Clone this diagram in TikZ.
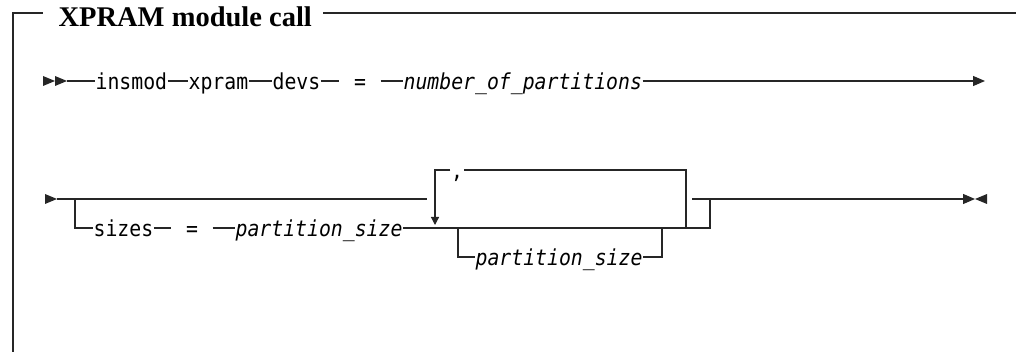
\documentclass[tikz,border=0pt]{standalone}
\usepackage{fontspec}
\setmainfont{Liberation Serif}
\setmonofont{DejaVu Sans Mono}[FakeStretch=0.9]
\usetikzlibrary{arrows.meta}

\begin{document}
\begin{tikzpicture}[x=1pt,y=-1pt,line width=1.2pt,color=black!85,
  kw/.style={inner sep=0pt,text height=18pt,text depth=0pt,anchor=west,text=black,font=\fontsize{22}{22}\selectfont\ttfamily},
  var/.style={kw,font=\fontsize{22}{22}\selectfont\ttfamily\itshape},
  eq/.style={kw,anchor=center,inner xsep=14pt},
  tip/.style={-{Triangle[length=12pt,width=10pt]}}]
\useasboundingbox (0,0) rectangle (1016,352);
% frame and title
\path (58,27) node(title) [anchor=base west,inner sep=0pt,text=black,font=\fontsize{28.5}{28.5}\selectfont\bfseries] {XPRAM module call};
\draw[line width=1.3pt] (13,352) -- (13,13) -- (43,13);
\draw[line width=1.3pt] (323,13) -- (1016,13);
% first row
\fill (43,76) -- (55,81) -- (43,86) -- cycle;
\fill (55,76) -- (67,81) -- (55,86) -- cycle;
\coordinate (start_1) at (67,81);
\path (95,81) node(insmod_1) [kw] {insmod};
\path (188,81) node(xpram_1) [kw] {xpram};
\path (272,81) node(devs_1) [kw] {devs};
\path (360,81) node(eq_1) [eq] {=};
\path (403,81) node(number_1) [var] {number\_of\_partitions};
\coordinate (end_1) at (985,81);
\draw (start_1) -- (insmod_1);
\draw (insmod_1) -- (xpram_1);
\draw (xpram_1) -- (devs_1);
\draw (devs_1) -- (eq_1);
\draw (eq_1) -- (number_1);
\draw[tip] (number_1) -- (end_1);
% second row
\fill (45,194) -- (57,199) -- (45,204) -- cycle;
\coordinate (start_2) at (57,199);
\coordinate (skip_2) at (427,199);
\coordinate (down_2) at (75,199);
\coordinate (corner_2) at (75,228);
\path (93,228) node(sizes_2) [kw] {sizes};
\path (192,228) node(eq_2) [eq] {=};
\path (235,228) node(size_2) [var] {partition\_size};
\coordinate (join_2) at (710,228);
\coordinate (up_2) at (710,199);
\coordinate (back_2) at (692,199);
\coordinate (end_2) at (975,199);
% repeat loop
\coordinate (loopb_2) at (686,228);
\coordinate (loopc_2) at (686,170);
\path (457,170) node(comma_2) [kw,anchor=center] {,};
\coordinate (loopa_2) at (435,170);
\coordinate (looptip_2) at (435,225);
% optional branch
\coordinate (opta_2) at (458,228);
\coordinate (optb_2) at (458,257);
\path (475,257) node(size2_2) [var] {partition\_size};
\coordinate (optc_2) at (662,257);
\coordinate (optd_2) at (662,228);
\draw (start_2) -- (skip_2);
\draw (down_2) -- (corner_2) -- (sizes_2);
\draw (sizes_2) -- (eq_2);
\draw (eq_2) -- (size_2);
\draw (size_2) -- (join_2) -- (up_2);
\draw[tip] (back_2) -- (end_2);
\fill (987,194) -- (975,199) -- (987,204) -- cycle;
\draw (loopb_2) -- (loopc_2) -- (comma_2);
\draw[-{Triangle[length=8pt,width=8pt]}] (comma_2) -- (loopa_2) -- (looptip_2);
\draw (opta_2) -- (optb_2) -- (size2_2);
\draw (size2_2) -- (optc_2) -- (optd_2);
\end{tikzpicture}
\end{document}
